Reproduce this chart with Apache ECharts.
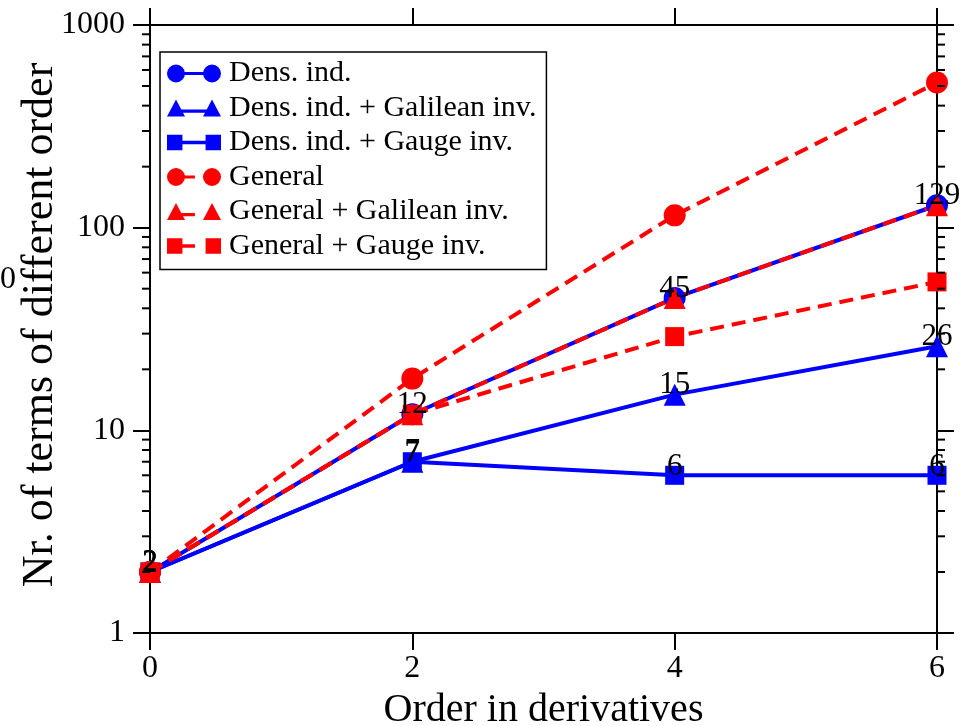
<!DOCTYPE html>
<html>
<head>
<meta charset="utf-8">
<script src="https://cdn.jsdelivr.net/npm/echarts@6/dist/echarts.min.js"></script>
<style>
  html, body { margin: 0; padding: 0; background: #fff; }
  #chart { width: 966px; height: 726px; }
</style>
</head>
<body>
<div id="chart"></div>
<script>
// Order in derivatives (x positions)
const orders = [0, 2, 4, 6];

// Number of terms of each order
const densInd          = [2, 12, 45, 129];
const densIndGalilean  = [2, 7, 15, 26];
const densIndGauge     = [2, 7, 6, 6];
const general          = [2, 18, 115, 520];
const generalGalilean  = [2, 12, 45, 129];
const generalGauge     = [2, 12, 29, 54];

const seriesNames = [
  'Dens. ind.',
  'Dens. ind. + Galilean inv.',
  'Dens. ind. + Gauge inv.',
  'General',
  'General + Galilean inv.',
  'General + Gauge inv.'
];

// Axis ticks
const xTicks = [0, 2, 4, 6];
const yDecades = [1, 10, 100, 1000];
const minorSteps = [2, 3, 4, 5, 6, 7, 8, 9];

const FONT = '"Liberation Serif", "Times New Roman", serif';
const BLUE = '#0000ff';
const RED = '#ff0000';
const DASH = [14, 8];

// Legend icons: marker - line - marker
const ICON_SOLID = {
  circle: 'path://M0,10 A10,10 0 1,1 20,10 A10,10 0 1,1 0,10 Z M40,10 A10,10 0 1,1 60,10 A10,10 0 1,1 40,10 Z M19,8.3 L41,8.3 L41,11.7 L19,11.7 Z',
  triangle: 'path://M0,20 L10,1 L20,20 Z M40,20 L50,1 L60,20 Z M15,12.3 L45,12.3 L45,15.7 L15,15.7 Z',
  rect: 'path://M2,2 L18,2 L18,18 L2,18 Z M42,2 L58,2 L58,18 L42,18 Z M17,8.3 L43,8.3 L43,11.7 L17,11.7 Z'
};
const ICON_DASHED = {
  circle: 'path://M0,10 A10,10 0 1,1 20,10 A10,10 0 1,1 0,10 Z M40,10 A10,10 0 1,1 60,10 A10,10 0 1,1 40,10 Z M19,8.3 L31,8.3 L31,11.7 L19,11.7 Z',
  triangle: 'path://M0,20 L10,1 L20,20 Z M40,20 L50,1 L60,20 Z M15,12.3 L31,12.3 L31,15.7 L15,15.7 Z',
  rect: 'path://M2,2 L18,2 L18,18 L2,18 Z M42,2 L58,2 L58,18 L42,18 Z M17,8.3 L31,8.3 L31,11.7 L17,11.7 Z'
};

function makeSeries(name, values, color, symbol, dashed, withLabels) {
  return {
    name: name,
    type: 'line',
    xAxisIndex: 0,
    yAxisIndex: 0,
    data: orders.map((x, i) => [x, values[i]]),
    symbol: symbol,
    symbolSize: symbol === 'rect' ? 19 : 22,
    clip: false,
    animation: false,
    lineStyle: { color: color, width: 4, type: dashed ? DASH : 'solid' },
    itemStyle: { color: color, borderWidth: 0 },
    label: {
      show: withLabels,
      position: 'top',
      distance: -17,
      fontFamily: FONT,
      fontSize: 31,
      color: '#000',
      formatter: p => String(p.value[1])
    },
    emphasis: { disabled: true }
  };
}

const series = [
  makeSeries(seriesNames[0], densInd, BLUE, 'circle', false, true),
  makeSeries(seriesNames[1], densIndGalilean, BLUE, 'triangle', false, true),
  makeSeries(seriesNames[2], densIndGauge, BLUE, 'rect', false, true),
  makeSeries(seriesNames[3], general, RED, 'circle', true, false),
  makeSeries(seriesNames[4], generalGalilean, RED, 'triangle', true, false),
  makeSeries(seriesNames[5], generalGauge, RED, 'rect', true, false)
];

const shapes = ['circle', 'triangle', 'rect', 'circle', 'triangle', 'rect'];
const legendData = seriesNames.map((n, i) => ({
  name: n,
  icon: (i < 3 ? ICON_SOLID : ICON_DASHED)[shapes[i]]
}));

const axisLineStyle = { color: '#000', width: 2 };

const chart = echarts.init(document.getElementById('chart'), null, { renderer: 'canvas' });

chart.setOption({
  animation: false,
  backgroundColor: '#fff',
  grid: { left: 150, right: 29, top: 25, bottom: 93, containLabel: false, outerBoundsMode: 'none' },
  legend: {
    orient: 'vertical',
    left: 160,
    top: 52,
    padding: [6, 10, 8, 7],
    backgroundColor: '#fff',
    borderColor: '#000',
    borderWidth: 1.5,
    itemWidth: 54,
    itemHeight: 18,
    itemGap: 3.5,
    selectedMode: false,
    itemStyle: { borderWidth: 0 },
    textStyle: { fontFamily: FONT, fontSize: 30, lineHeight: 31, color: '#000', padding: [0, 0, 0, 3] },
    data: legendData
  },
  xAxis: [
    {
      type: 'value', position: 'bottom', min: 0, max: 6, interval: 2,
      axisLine: { onZero: false, lineStyle: axisLineStyle },
      axisTick: { inside: false, length: 17, lineStyle: axisLineStyle },
      axisLabel: { fontFamily: FONT, fontSize: 32, color: '#000', margin: 20 },
      splitLine: { show: false },
      name: 'Order in derivatives',
      nameLocation: 'middle',
      nameGap: 57,
      nameMoveOverlap: false,
      nameTextStyle: { fontFamily: FONT, fontSize: 40, color: '#000' }
    },
    {
      type: 'value', position: 'top', min: 0, max: 6, interval: 2,
      axisLine: { onZero: false, lineStyle: axisLineStyle },
      axisTick: { inside: false, length: 17, lineStyle: axisLineStyle },
      axisLabel: { show: false },
      splitLine: { show: false }
    }
  ],
  yAxis: [
    {
      type: 'log', logBase: 10, min: 1, max: 1000, position: 'left',
      axisLine: { onZero: false, lineStyle: axisLineStyle },
      axisTick: { inside: false, length: 17, lineStyle: axisLineStyle },
      axisLabel: { fontFamily: FONT, fontSize: 32, color: '#000', margin: 25, formatter: v => String(Math.round(v)) },
      splitLine: { show: false },
      minorTick: { show: false },
      name: 'Nr. of terms of different order',
      nameLocation: 'middle',
      nameGap: 88,
      nameMoveOverlap: false,
      nameTextStyle: { fontFamily: FONT, fontSize: 44, color: '#000', padding: [0, 0, 0, 8] }
    },
    {
      type: 'log', logBase: 10, min: 1, max: 1000, position: 'right',
      axisLine: { onZero: false, lineStyle: axisLineStyle },
      axisTick: { inside: false, length: 17, lineStyle: axisLineStyle },
      axisLabel: { show: false },
      splitLine: { show: false }
    }
  ],
  series: series
});

// Logarithmic minor ticks (2..9 within each decade) on the left and right axes
const xLeft = chart.convertToPixel({ xAxisIndex: 0 }, 0);
const xRight = chart.convertToPixel({ xAxisIndex: 0 }, 6);
const minorTicks = [];
yDecades.slice(0, -1).forEach(d => {
  minorSteps.forEach(k => {
    const y = chart.convertToPixel({ yAxisIndex: 0 }, k * d);
    minorTicks.push({
      type: 'line', silent: true, z: 10,
      shape: { x1: xLeft - 8, y1: y, x2: xLeft, y2: y },
      style: { stroke: '#000', lineWidth: 2 }
    });
    minorTicks.push({
      type: 'line', silent: true, z: 10,
      shape: { x1: xRight, y1: y, x2: xRight + 8, y2: y },
      style: { stroke: '#000', lineWidth: 2 }
    });
  });
});

minorTicks.push({
  type: 'text', silent: true,
  style: { text: '0', x: 0, y: 280, align: 'left', verticalAlign: 'middle', font: '32px ' + FONT, fill: '#000' }
});

chart.setOption({ graphic: minorTicks });
</script>
</body>
</html>
